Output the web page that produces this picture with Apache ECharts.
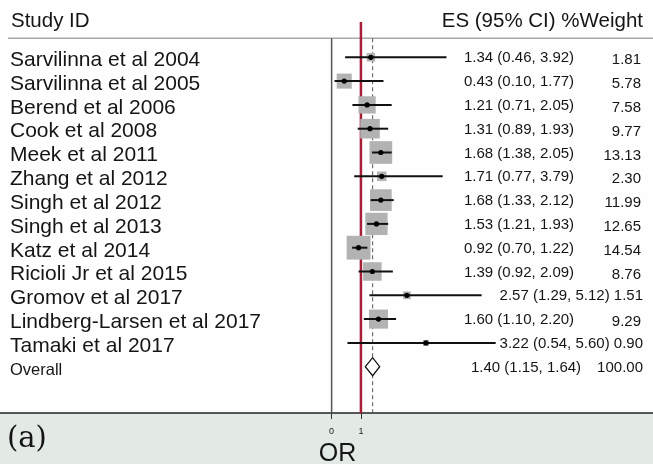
<!DOCTYPE html>
<html>
<head>
<meta charset="utf-8">
<script src="https://cdn.jsdelivr.net/npm/echarts@6/dist/echarts.min.js"></script>
<style>html,body{margin:0;padding:0;background:#fefefe;}#c{width:653px;height:464px;}</style>
</head>
<body>
<div id="c"></div>
<script>
var studies = ["Sarvilinna et al 2004","Sarvilinna et al 2005","Berend et al 2006","Cook et al 2008","Meek et al 2011","Zhang et al 2012","Singh et al 2012","Singh et al 2013","Katz et al 2014","Ricioli Jr et al 2015","Gromov et al 2017","Lindberg-Larsen et al 2017","Tamaki et al 2017"];
var es = [1.34,0.43,1.21,1.31,1.68,1.71,1.68,1.53,0.92,1.39,2.57,1.60,3.22];
var ciLow = [0.46,0.10,0.71,0.89,1.38,0.77,1.33,1.21,0.70,0.92,1.29,1.10,0.54];
var ciHigh = [3.92,1.77,2.05,1.93,2.05,3.79,2.12,1.93,1.22,2.09,5.12,2.20,5.60];
var weights = [1.81,5.78,7.58,9.77,13.13,2.30,11.99,12.65,14.54,8.76,1.51,9.29,0.90];
var overallLabel = "Overall";
var overallES = 1.40, overallLow = 1.15, overallHigh = 1.64, overallWeight = 100.00;
var xTicks = [0, 1];
var nullValue = 1;

var FONT = "'Liberation Sans', Arial, sans-serif";
var rows = [];
for (var i = 0; i < studies.length; i++) rows.push([i + 1, es[i], ciLow[i], ciHigh[i], weights[i], 0]);
rows.push([studies.length + 1, overallES, overallLow, overallHigh, overallWeight, 1]);
var labels = studies.concat([overallLabel]);

var Y_TOP = -0.483, Y_BOT = 15.945, Y_HEAD = 0.2;

function mkText(x, y, str, size, align, family) {
  return {type: 'text', style: {x: x, y: y, text: str, fill: '#151515',
    fontSize: size, fontFamily: family || FONT,
    align: align, textAlign: align, verticalAlign: 'middle', textVerticalAlign: 'middle'}};
}

function renderItem(params, api) {
  var row = api.value(0), e = api.value(1), lo = api.value(2), hi = api.value(3), w = api.value(4), ov = api.value(5);
  var pc = api.coord([e, row]);
  var pl = api.coord([lo, row]);
  var ph = api.coord([hi, row]);
  var y = pc[1];
  var children = [];
  var idx = params.dataIndex;
  var esStr = e.toFixed(2) + ' (' + lo.toFixed(2) + ', ' + hi.toFixed(2) + ')';
  var wStr = w.toFixed(2);
  if (ov) {
    var h = 9;
    children.push({type: 'polygon', shape: {points: [[pl[0], y], [pc[0], y - h], [ph[0], y], [pc[0], y + h]]},
      style: {fill: '#ffffff', stroke: '#111', lineWidth: 1.3}});
    children.push(mkText(10, y + 4, labels[idx], 16.5, 'left'));
    children.push(mkText(471, y + 1, esStr, 15, 'left'));
    children.push(mkText(643, y + 1, wStr, 15, 'right'));
  } else {
    var side = 6.26 * Math.sqrt(w);
    children.push({type: 'rect', shape: {x: pc[0] - side / 2, y: y - side / 2, width: side, height: side},
      style: {fill: '#b2b2b2'}});
    children.push({type: 'line', shape: {x1: pl[0], y1: y, x2: ph[0], y2: y},
      style: {stroke: '#111', lineWidth: 2}});
    children.push({type: 'circle', shape: {cx: pc[0], cy: y, r: 2.6}, style: {fill: '#000'}});
    children.push(mkText(10, y + 3, labels[idx], 21, 'left'));
    if (ph[0] + 8 > 465) {
      children.push(mkText(643, y + 1, esStr + ' ' + wStr, 15, 'right'));
    } else {
      children.push(mkText(464, y + 1, esStr, 15, 'left'));
      children.push(mkText(641, y + 3, wStr, 15, 'right'));
    }
  }
  return {type: 'group', children: children};
}

var chart = echarts.init(document.getElementById('c'), null, {renderer: 'canvas'});
chart.setOption({
  backgroundColor: '#fefefe',
  animation: false,
  grid: {left: 0, right: 0, top: 22, bottom: 51, containLabel: false, outerBoundsMode: 'none'},
  xAxis: {
    type: 'value', min: -11.32, max: 10.97,
    splitLine: {show: false},
    axisLine: {show: true, onZero: false, lineStyle: {color: '#222', width: 1.5}},
    axisTick: {show: true, customValues: xTicks, length: 6, lineStyle: {color: '#333', width: 1}},
    axisLabel: {show: true, customValues: xTicks, fontSize: 9, color: '#222', margin: 14, fontFamily: FONT},
    name: 'OR', nameLocation: 'middle', nameGap: 29,
    nameTextStyle: {fontSize: 25, color: '#151515', fontFamily: FONT, padding: [0, 0, 0, 22]}
  },
  yAxis: {type: 'value', inverse: true, min: Y_TOP, max: Y_BOT, show: false},
  graphic: [
    {type: 'rect', left: 0, top: 413, z: -10, shape: {width: 653, height: 51}, style: {fill: '#e3eae6'}},
    {type: 'line', z: 1, shape: {x1: 8, y1: 38.3, x2: 653, y2: 38.3}, style: {stroke: '#a8a8a8', lineWidth: 1.5}},
    {type: 'text', left: 11, top: 11, z: 5, style: {text: 'Study ID', fontSize: 20.5, fontFamily: FONT, fill: '#151515'}},
    {type: 'text', right: 10, top: 11, z: 5, style: {text: 'ES (95% CI) %Weight', fontSize: 20.5, fontFamily: FONT, fill: '#151515'}},
    {type: 'text', left: 7, top: 425, z: 5, style: {text: '(a)', fontSize: 29, fontFamily: "'DejaVu Serif', 'Liberation Serif', serif", fill: '#151515'}}
  ],
  series: [
    {type: 'line', symbol: 'none', silent: true, z: 1, data: [[0, Y_HEAD], [0, Y_BOT]], lineStyle: {color: '#555', width: 1.5}},
    {type: 'line', symbol: 'none', silent: true, z: 1, data: [[overallES, Y_HEAD], [overallES, Y_BOT]], lineStyle: {color: '#555', width: 1, type: [4, 3]}},
    {type: 'line', symbol: 'none', silent: true, z: 1, data: [[nullValue, Y_TOP], [nullValue, Y_BOT]], lineStyle: {color: '#a71e36', width: 2.5}},
    {type: 'custom', z: 3, renderItem: renderItem, data: rows, encode: {x: [1, 2, 3], y: 0}}
  ]
});
</script>
</body>
</html>
